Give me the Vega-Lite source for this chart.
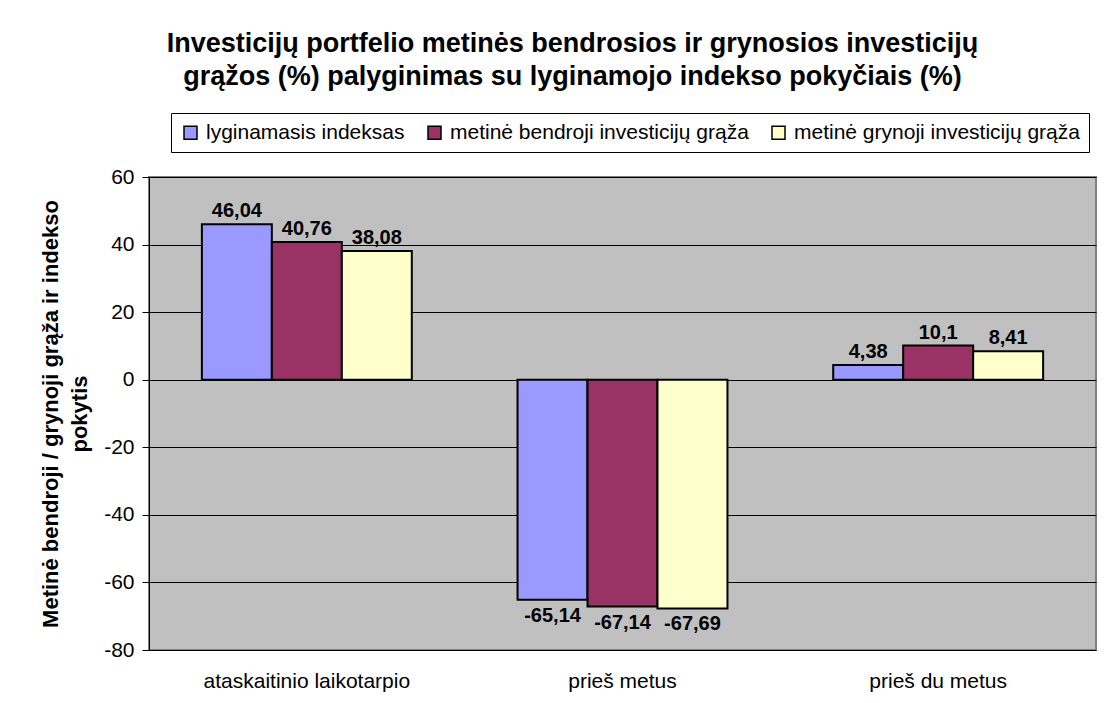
{
  "$schema": "https://vega.github.io/schema/vega-lite/v6.json",
  "width": 947,
  "height": 473,
  "autosize": {"type": "none"},
  "padding": {"left": 149, "top": 177, "right": 20, "bottom": 53},
  "background": "white",
  "title": {
    "text": ["Investicijų portfelio metinės bendrosios ir grynosios investicijų", "grąžos (%) palyginimas su lyginamojo indekso pokyčiais (%)"],
    "font": "Liberation Sans",
    "fontSize": 27,
    "fontWeight": "bold",
    "lineHeight": 33,
    "color": "black",
    "anchor": "middle",
    "frame": "group",
    "dx": -50,
    "offset": 22
  },
  "config": {
    "locale": {"number": {"decimal": ",", "thousands": " ", "grouping": [3], "currency": ["", ""], "minus": "-"}},
    "font": "Liberation Sans",
    "view": {"fill": "#C0C0C0", "stroke": "#808080", "strokeWidth": 2},
    "axis": {"labelFont": "Liberation Sans", "labelColor": "black", "titleColor": "black"}
  },
  "data": {
    "values": [
      {"period": "ataskaitinio laikotarpio", "series": "lyginamasis indeksas", "value": 46.04},
      {"period": "ataskaitinio laikotarpio", "series": "metinė bendroji investicijų grąža", "value": 40.76},
      {"period": "ataskaitinio laikotarpio", "series": "metinė grynoji investicijų grąža", "value": 38.08},
      {"period": "prieš metus", "series": "lyginamasis indeksas", "value": -65.14},
      {"period": "prieš metus", "series": "metinė bendroji investicijų grąža", "value": -67.14},
      {"period": "prieš metus", "series": "metinė grynoji investicijų grąža", "value": -67.69},
      {"period": "prieš du metus", "series": "lyginamasis indeksas", "value": 4.38},
      {"period": "prieš du metus", "series": "metinė bendroji investicijų grąža", "value": 10.1},
      {"period": "prieš du metus", "series": "metinė grynoji investicijų grąža", "value": 8.41}
    ]
  },
  "encoding": {
    "x": {
      "field": "period",
      "type": "nominal",
      "sort": ["ataskaitinio laikotarpio", "prieš metus", "prieš du metus"],
      "scale": {"paddingInner": 0.335, "paddingOuter": 0.1675},
      "axis": {"title": null, "labelAngle": 0, "labelFontSize": 21, "labelPadding": 20, "labelLimit": 0, "ticks": false, "domain": false}
    },
    "xOffset": {
      "field": "series",
      "type": "nominal",
      "sort": ["lyginamasis indeksas", "metinė bendroji investicijų grąža", "metinė grynoji investicijų grąža"],
      "scale": {"paddingInner": 0, "paddingOuter": 0}
    },
    "y": {
      "field": "value",
      "type": "quantitative",
      "scale": {"domain": [-80, 60], "nice": false},
      "axis": {
        "values": [-80, -60, -40, -20, 0, 20, 40, 60],
        "title": ["Metinė bendroji / grynoji grąža ir indekso", "pokytis"],
        "titleFont": "Liberation Sans",
        "titleFontSize": 22,
        "titleFontWeight": "bold",
        "titleLineHeight": 29,
        "titlePadding": 12,
        "labelFontSize": 21,
        "labelPadding": 8,
        "tickSize": 7,
        "tickColor": "black",
        "domainColor": "black",
        "gridColor": "black",
        "gridOpacity": 1,
        "gridWidth": 1,
        "grid": true
      }
    }
  },
  "layer": [
    {
      "mark": {"type": "bar", "stroke": "black", "strokeWidth": 2},
      "encoding": {
        "color": {
          "field": "series",
          "type": "nominal",
          "scale": {
            "domain": ["lyginamasis indeksas", "metinė bendroji investicijų grąža", "metinė grynoji investicijų grąža"],
            "range": ["#9999FF", "#993366", "#FFFFCC"]
          },
          "legend": {
            "title": null,
            "orient": "none",
            "direction": "horizontal",
            "legendX": 22,
            "legendY": -64,
            "fillColor": "white",
            "strokeColor": "black",
            "padding": 9,
            "symbolType": "square",
            "symbolSize": 169,
            "symbolStrokeColor": "black",
            "symbolStrokeWidth": 1.5,
            "symbolOpacity": 1,
            "labelFont": "Liberation Sans",
            "labelFontSize": 21,
            "labelColor": "black",
            "labelLimit": 0,
            "labelOffset": 5,
            "columnPadding": 19
          }
        }
      }
    },
    {
      "transform": [{"filter": "datum.value >= 0"}],
      "mark": {"type": "text", "baseline": "alphabetic", "dy": -7, "fontSize": 20, "fontWeight": "bold", "font": "Liberation Sans", "color": "black"},
      "encoding": {"text": {"field": "value", "type": "quantitative", "format": "~g"}}
    },
    {
      "transform": [{"filter": "datum.value < 0"}],
      "mark": {"type": "text", "baseline": "top", "dy": 6, "fontSize": 20, "fontWeight": "bold", "font": "Liberation Sans", "color": "black"},
      "encoding": {"text": {"field": "value", "type": "quantitative", "format": "~g"}}
    }
  ]
}
